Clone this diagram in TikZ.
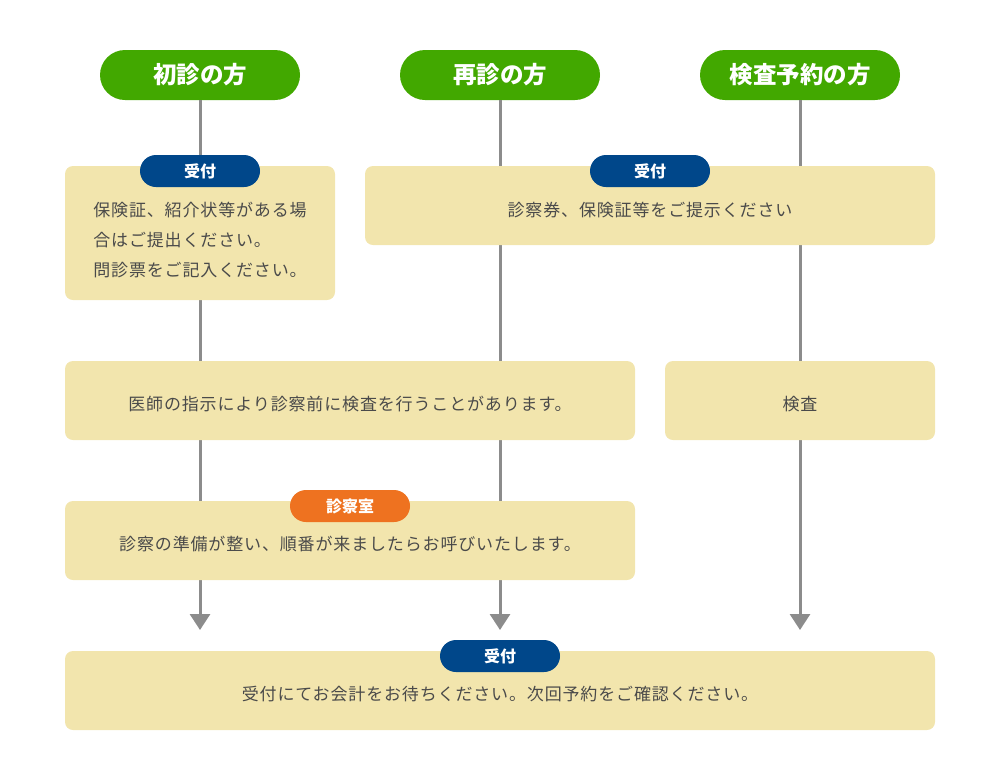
\documentclass[tikz,border=0pt]{standalone}
\usepackage{fontspec}
\setmainfont{Noto Sans CJK JP}
\newfontfamily\jpbody[LetterSpace=5]{Noto Sans CJK JP}
\usetikzlibrary{arrows.meta}
\definecolor{headgreen}{HTML}{42A800}
\definecolor{tagblue}{HTML}{00478A}
\definecolor{tagorange}{HTML}{EE7220}
\definecolor{boxbeige}{HTML}{F2E5AD}
\definecolor{bodygray}{HTML}{4A4A4A}
\definecolor{linegray}{HTML}{8C8C8C}
\begin{document}
\begin{tikzpicture}[x=1pt,y=-1pt,
  head/.style={rounded corners=25pt,fill=headgreen,text=white,minimum width=200pt,minimum height=50pt,font=\fontsize{23.5}{26}\selectfont\bfseries},
  box/.style={rounded corners=8pt,fill=boxbeige,inner sep=0pt},
  txt/.style={text=bodygray,align=left,font=\jpbody\fontsize{17}{30}\selectfont},
  tag/.style={rounded corners=16pt,text=white,minimum width=120pt,minimum height=32pt,inner sep=0pt,font=\fontsize{16}{18}\selectfont\bfseries},
  flow/.style={draw=linegray,line width=3pt}]
  \useasboundingbox (0,0) rectangle (1000,780);

  \node[head] (h1) at (200,75) {初診の方};
  \node[head] (h2) at (500,75) {再診の方};
  \node[head] (h3) at (800,75) {検査予約の方};

  \coordinate (e1) at (200,630);
  \coordinate (e2) at (500,630);
  \coordinate (e3) at (800,630);
  \draw[flow,-{Triangle[width=20pt,length=16pt]}] (h1) -- (e1);
  \draw[flow,-{Triangle[width=20pt,length=16pt]}] (h2) -- (e2);
  \draw[flow,-{Triangle[width=20pt,length=16pt]}] (h3) -- (e3);

  \node[box,minimum width=270pt,minimum height=134pt] (b1) at (200,233) {};
  \node[txt] (t1) at (200,240) {保険証、紹介状等がある場\\合はご提出ください。\\問診票をご記入ください。};
  \node[box,minimum width=570pt,minimum height=79pt] (b2) at (650,205.5) {};
  \node[txt] (t2) at (650,210) {診察券、保険証等をご提示ください};
  \node[box,minimum width=570pt,minimum height=79pt] (b3) at (350,400.5) {};
  \node[txt] (t3) at (350,404) {医師の指示により診察前に検査を行うことがあります。};
  \node[box,minimum width=270pt,minimum height=79pt] (b4) at (800,400.5) {};
  \node[txt] (t4) at (800,404) {検査};
  \node[box,minimum width=570pt,minimum height=79pt] (b5) at (350,540.5) {};
  \node[txt] (t5) at (350,544) {診察の準備が整い、順番が来ましたらお呼びいたします。};
  \node[box,minimum width=870pt,minimum height=79pt] (b6) at (500,690.5) {};
  \node[txt] (t6) at (500,694) {受付にてお会計をお待ちください。次回予約をご確認ください。};

  \node[tag,fill=tagblue] (r1) at (200,171) {受付};
  \node[tag,fill=tagblue] (r2) at (650,171) {受付};
  \node[tag,fill=tagorange] (r3) at (350,506) {診察室};
  \node[tag,fill=tagblue] (r4) at (500,656) {受付};
\end{tikzpicture}
\end{document}
